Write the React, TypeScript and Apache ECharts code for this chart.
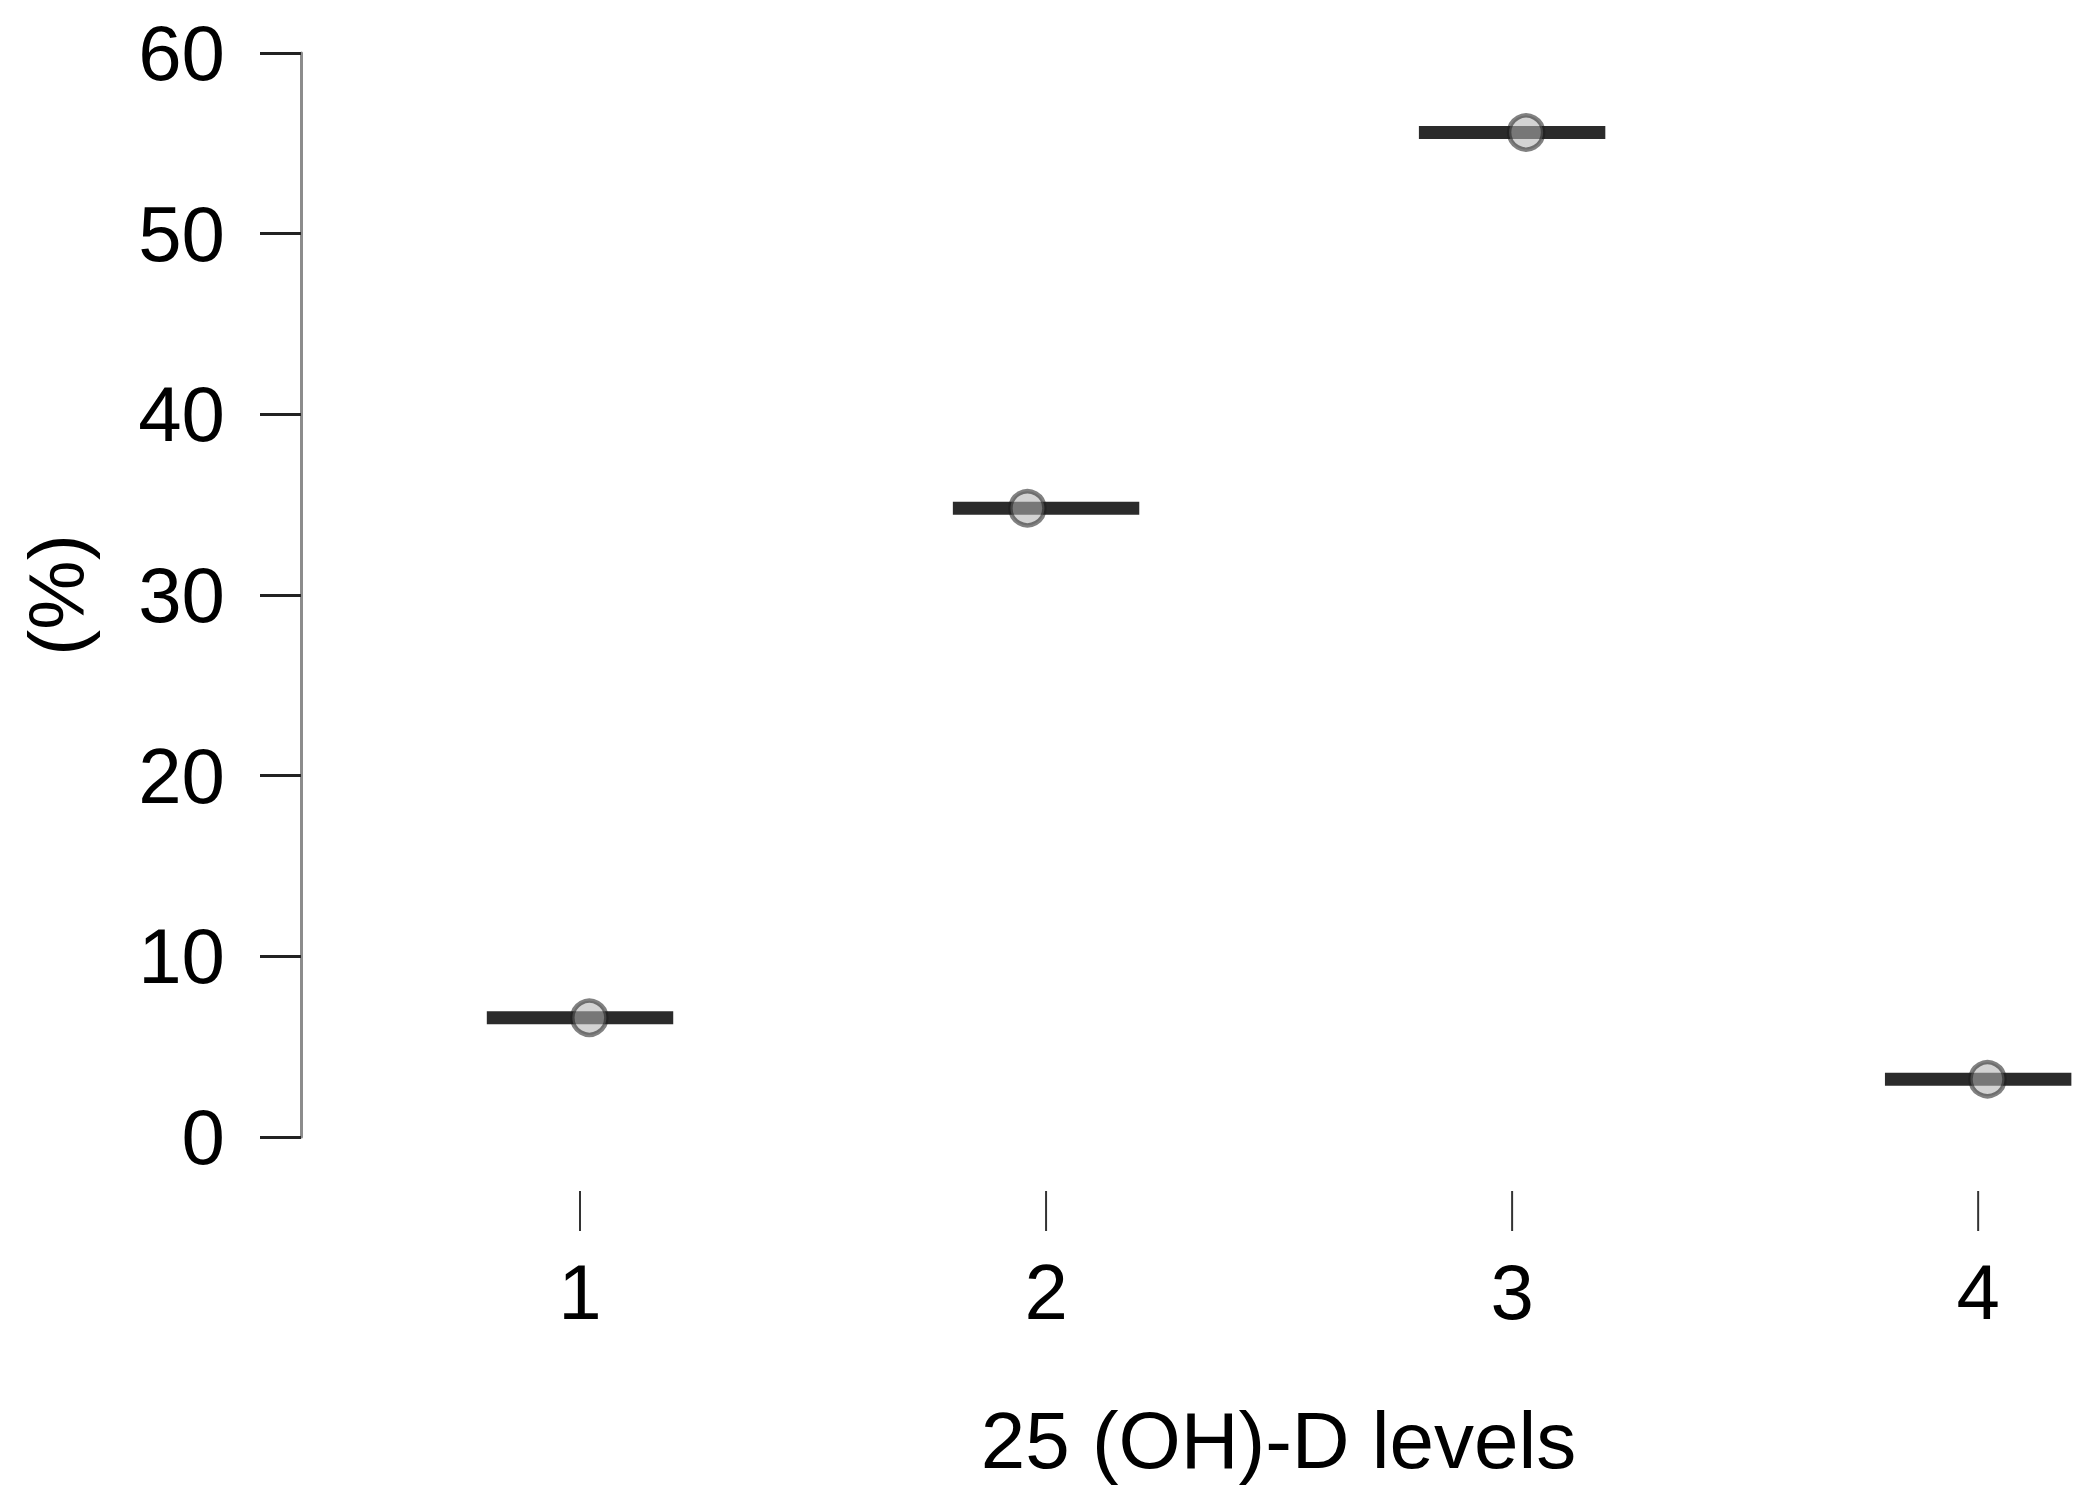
import React, { useEffect, useRef } from "react";
import * as echarts from "echarts";

const categories = ["1", "2", "3", "4"];
const levelX = [1, 2, 3, 4];
const percentValues = [6.6, 34.8, 55.6, 3.2];
const pointJitterX = [1.02, 1.96, 3.03, 4.02];
const yTicks = [0, 10, 20, 30, 40, 50, 60];

export default function App() {
  const ref = useRef<HTMLDivElement>(null);
  useEffect(() => {
    if (!ref.current) return;
    const chart = echarts.init(ref.current, undefined, { renderer: "svg" });
    const font = "'Liberation Sans', Arial, sans-serif";
    const barData = levelX.map((x, i) => [x, percentValues[i]]);
    const pointData = pointJitterX.map((x, i) => [x, percentValues[i]]);
    const tickData = levelX.map((x) => [x, 0]);
    chart.setOption({
      animation: false,
      backgroundColor: "#ffffff",
      grid: { left: 301, right: 105, top: 53, bottom: 369, containLabel: false },
      xAxis: {
        type: "value",
        min: 0.4013,
        max: 4.034,
        offset: 54,
        splitLine: { show: false },
        axisLine: { show: false },
        axisTick: { show: false },
        axisLabel: {
          show: true,
          customValues: levelX,
          margin: 62,
          color: "#000000",
          fontSize: 78,
          fontFamily: font,
          formatter: (v: number) => categories[levelX.indexOf(v)] ?? "",
        },
        name: "25 (OH)-D levels",
        nameLocation: "middle",
        nameGap: 209,
        nameTextStyle: {
          color: "#000000",
          fontSize: 80,
          fontFamily: font,
          padding: [0, 0, 0, 262],
        },
      },
      yAxis: {
        type: "value",
        min: 0,
        max: 60,
        interval: 10,
        splitLine: { show: false },
        axisLine: { show: true, lineStyle: { color: "#8c8c8c", width: 3 } },
        axisTick: {
          show: true,
          length: 41,
          customValues: yTicks,
          lineStyle: { color: "#222222", width: 3 },
        },
        axisLabel: {
          margin: 76,
          color: "#000000",
          fontSize: 78,
          fontFamily: font,
        },
        name: "(%)",
        nameLocation: "middle",
        nameGap: 205,
        nameTextStyle: { color: "#000000", fontSize: 78, fontFamily: font },
      },
      series: [
        {
          type: "custom",
          clip: false,
          silent: true,
          z: 1,
          data: tickData,
          renderItem: (params: any, api: any) => {
            const p = api.coord([api.value(0), api.value(1)]);
            return {
              type: "line",
              shape: { x1: p[0], y1: p[1] + 54, x2: p[0], y2: p[1] + 94 },
              style: { stroke: "#333333", lineWidth: 2 },
            };
          },
        },
        {
          type: "custom",
          clip: false,
          z: 2,
          data: barData,
          renderItem: (params: any, api: any) => {
            const x = api.value(0);
            const y = api.value(1);
            const p1 = api.coord([x - 0.2, y]);
            const p2 = api.coord([x + 0.2, y]);
            return {
              type: "line",
              shape: { x1: p1[0], y1: p1[1], x2: p2[0], y2: p2[1] },
              style: { stroke: "#2b2b2b", lineWidth: 13 },
            };
          },
        },
        {
          type: "scatter",
          z: 3,
          clip: false,
          symbol: "circle",
          symbolSize: 34,
          data: pointData,
          itemStyle: {
            color: "rgba(177,177,177,0.71)",
            borderColor: "rgba(30,30,30,0.7)",
            borderWidth: 4.5,
          },
        },
      ],
    });
    return () => chart.dispose();
  }, []);
  return (
    <div
      ref={ref}
      style={{ position: "absolute", left: 0, top: 0, width: 2099, height: 1506 }}
    />
  );
}
